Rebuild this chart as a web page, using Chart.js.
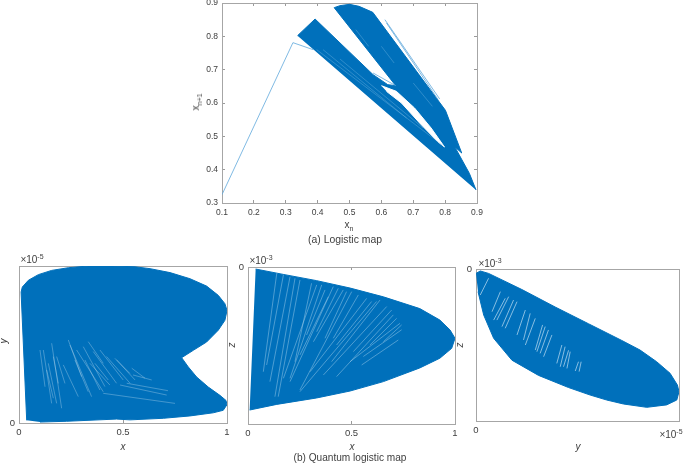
<!DOCTYPE html>
<html>
<head>
<meta charset="utf-8">
<title>Logistic map</title>
<script src="https://cdn.jsdelivr.net/npm/chart.js@4"></script>
<style>
  html, body { margin: 0; padding: 0; background: #fff; }
  #page { position: relative; width: 685px; height: 466px; overflow: hidden;
          font-family: "Liberation Sans", Arial, sans-serif; color: #404040;
          filter: blur(0.35px); }
  #page canvas { position: absolute; }
  .lbl { position: absolute; font-size: 10px; line-height: 12px; white-space: nowrap;
         transform: translate(-50%, -50%); }
  .lbl sub, .lbl sup { font-size: 7px; line-height: 0; }
  .rot { transform: translate(-50%, -50%) rotate(-90deg); }
  .it { font-style: italic; }
</style>
</head>
<body>
<div id="page">
  <canvas id="logistic"></canvas>
  <canvas id="quantXY"></canvas>
  <canvas id="quantXZ"></canvas>
  <canvas id="quantYZ"></canvas>
  <div class="lbl" style="left:349px;top:225px">x<sub>n</sub></div>
  <div class="lbl rot" style="left:196px;top:102px">x<sub>n+1</sub></div>
  <div class="lbl" style="left:345px;top:240px;font-size:10.4px">(a) Logistic map</div>
  <div class="lbl" style="left:350px;top:458px;font-size:10.1px">(b) Quantum logistic map</div>
  <div class="lbl" style="left:32px;top:260px">&times;10<sup>-5</sup></div>
  <div class="lbl" style="left:261px;top:261px">&times;10<sup>-3</sup></div>
  <div class="lbl" style="left:490px;top:264px">&times;10<sup>-3</sup></div>
  <div class="lbl" style="left:671px;top:435px">&times;10<sup>-5</sup></div>
  <div class="lbl it" style="left:123px;top:447px">x</div>
  <div class="lbl it" style="left:352px;top:447px">x</div>
  <div class="lbl it" style="left:578px;top:447px">y</div>
  <div class="lbl it rot" style="left:4px;top:341px">y</div>
  <div class="lbl it rot" style="left:232px;top:345px">z</div>
  <div class="lbl it rot" style="left:460px;top:345px">z</div>
</div>
<script>
const blue = "#0070BB";

// (a) logistic map
const logisticTicksX = [0.1, 0.2, 0.3, 0.4, 0.5, 0.6, 0.7, 0.8, 0.9];
const logisticTicksY = [0.3, 0.4, 0.5, 0.6, 0.7, 0.8, 0.9];
const bandX = [0.337, 0.392, 0.574, 0.62, 0.645, 0.452, 0.47, 0.5, 0.53, 0.573, 0.801, 0.852, 0.83, 0.876, 0.897];
const bandY = [0.802, 0.852, 0.685, 0.655, 0.652, 0.886, 0.892, 0.896, 0.89, 0.872, 0.578, 0.45, 0.469, 0.389, 0.339];
const channelX = [0.6, 0.647, 0.704, 0.756, 0.798, 0.777, 0.72, 0.663, 0.616];
const channelY = [0.652, 0.635, 0.585, 0.525, 0.468, 0.484, 0.54, 0.6, 0.635];
const traceX = [0.1, 0.3225, 0.386, null, 0.574, 0.645, null, 0.611, 0.783, null, 0.616, 0.778];
const traceY = [0.325, 0.781, 0.76, null, 0.69, 0.652, null, 0.85, 0.612, null, 0.84, 0.61];
const bandGapsX = [0.397, 0.799, null, 0.417, 0.679, null, 0.47, 0.731, null, 0.52, 0.56, null, 0.6, 0.64, null, 0.7, 0.76];
const bandGapsY = [0.76, 0.468, null, 0.76, 0.555, null, 0.732, 0.525, null, 0.82, 0.77, null, 0.77, 0.72, null, 0.66, 0.59];

// (b) quantum logistic map, x against y
const quantTicksX = [0, 0.5, 1];
const quantTicksY = [0];
const xyX = [0.037, 0.01, 0.016, 0.045, 0.093, 0.157, 0.237, 0.333, 0.445, 0.558, 0.63, 0.726, 0.822, 0.902, 0.958, 0.99, 1, 0.99, 0.958, 0.902, 0.838, 0.782, 0.814, 0.854, 0.91, 0.966, 0.995, 1, 0.982, 0.934, 0.822, 0.694, 0.534, 0.469, 0.229, 0.101];
const xyY = [0.017, 0.834, 0.866, 0.909, 0.945, 0.972, 0.989, 1, 1, 0.995, 0.983, 0.958, 0.919, 0.872, 0.813, 0.76, 0.717, 0.654, 0.591, 0.516, 0.463, 0.416, 0.357, 0.293, 0.229, 0.176, 0.144, 0.117, 0.081, 0.065, 0.045, 0.03, 0.02, 0.025, 0.011, 0.006];
const xyGapsX = [0.75, 0.405, null, 0.71, 0.486, null, 0.716, 0.518, null, 0.638, 0.548, null, 0.157, 0.205, null, 0.117, 0.157, null, 0.245, 0.349, null, 0.277, 0.405, null, 0.309, 0.413, null, 0.341, 0.437, null, 0.389, 0.501, null, 0.421, 0.534, null, 0.213, 0.285, null, 0.165, 0.189, null, 0.133, 0.165, null, 0.469, 0.558, null, 0.542, 0.606, null, 0.357, 0.469, null, 0.101, 0.125, null, 0.141, 0.181, null, 0.181, 0.221, null, 0.237, 0.301, null, 0.269, 0.333, null, 0.317, 0.389, null, 0.365, 0.429, null, 0.333, 0.405, null, 0.461, 0.533];
const xyGapsY = [0.125, 0.189, null, 0.178, 0.242, null, 0.206, 0.253, null, 0.274, 0.306, null, 0.508, 0.094, null, 0.465, 0.125, null, 0.497, 0.168, null, 0.465, 0.199, null, 0.486, 0.232, null, 0.38, 0.242, null, 0.465, 0.274, null, 0.423, 0.253, null, 0.37, 0.168, null, 0.423, 0.252, null, 0.338, 0.158, null, 0.402, 0.274, null, 0.349, 0.285, null, 0.455, 0.253, null, 0.465, 0.231, null, 0.38, 0.125, null, 0.423, 0.252, null, 0.529, 0.295, null, 0.401, 0.199, null, 0.401, 0.21, null, 0.38, 0.274, null, 0.518, 0.38, null, 0.412, 0.316];

// (b) x against z
const xzX = [0.037, 0.17, 0.332, 0.493, 0.654, 0.83, 0.927, 0.976, 1, 0.984, 0.927, 0.83, 0.654, 0.493, 0.332, 0.139, 0.008];
const xzZ = [-0.013, -0.047, -0.087, -0.134, -0.19, -0.265, -0.338, -0.401, -0.454, -0.518, -0.581, -0.643, -0.73, -0.79, -0.834, -0.875, -0.911];
const xzGapsX = [0.139, 0.074, null, 0.203, 0.106, null, 0.251, 0.146, null, 0.412, 0.203, null, 0.388, 0.251, null, 0.501, 0.251, null, 0.573, 0.3, null, 0.621, 0.251, null, 0.67, 0.364, null, 0.702, 0.428, null, 0.734, 0.493, null, 0.726, 0.549, null, 0.742, 0.557, null, 0.332, 0.171, null, 0.46, 0.316, null, 0.638, 0.404, null, 0.171, 0.09, null, 0.227, 0.13, null, 0.307, 0.227, null, 0.356, 0.203, null, 0.372, 0.283, null, 0.436, 0.332, null, 0.476, 0.372, null, 0.533, 0.412, null, 0.597, 0.428, null, 0.694, 0.509, null, 0.718, 0.589, null, 0.742, 0.654];
const xzGapsZ = [-0.04, -0.667, null, -0.062, -0.73, null, -0.083, -0.826, null, -0.125, -0.73, null, -0.189, -0.56, null, -0.157, -0.783, null, -0.2, -0.667, null, -0.22, -0.794, null, -0.252, -0.688, null, -0.305, -0.698, null, -0.359, -0.603, null, -0.465, -0.624, null, -0.4, -0.57, null, -0.114, -0.709, null, -0.146, -0.476, null, -0.21, -0.603, null, -0.051, -0.624, null, -0.072, -0.826, null, -0.104, -0.603, null, -0.114, -0.709, null, -0.146, -0.433, null, -0.136, -0.412, null, -0.157, -0.454, null, -0.178, -0.454, null, -0.22, -0.497, null, -0.274, -0.539, null, -0.327, -0.497, null, -0.369, -0.476];

// (b) y against z
const yzY = [0, 0.021, 0.062, 0.226, 0.39, 0.554, 0.718, 0.808, 0.89, 0.956, 0.992, 1, 0.989, 0.939, 0.841, 0.726, 0.644, 0.562, 0.456, 0.308, 0.177, 0.087, 0.038, 0.01];
const yzZ = [-0.029, -0.013, -0.029, -0.135, -0.25, -0.36, -0.47, -0.533, -0.61, -0.686, -0.763, -0.807, -0.862, -0.894, -0.91, -0.888, -0.862, -0.829, -0.78, -0.7, -0.6, -0.456, -0.303, -0.149];
const yzGapsY = [0.062, 0.021, null, 0.161, 0.103, null, 0.202, 0.144, null, 0.292, 0.243, null, 0.341, 0.3, null, 0.374, 0.333, null, 0.439, 0.415, null, 0.505, 0.489, null, 0.243, 0.202, null, 0.12, 0.079, null, 0.464, 0.448, null, 0.144, 0.087, null, 0.185, 0.128, null, 0.267, 0.234, null, 0.328, 0.292, null, 0.357, 0.316, null, 0.423, 0.398, null, 0.456, 0.431, null, 0.518, 0.508];
const yzGapsZ = [-0.061, -0.171, null, -0.182, -0.336, null, -0.215, -0.39, null, -0.325, -0.5, null, -0.379, -0.544, null, -0.434, -0.577, null, -0.511, -0.643, null, -0.61, -0.671, null, -0.27, -0.434, null, -0.149, -0.281, null, -0.544, -0.654, null, -0.193, -0.336, null, -0.204, -0.379, null, -0.292, -0.467, null, -0.368, -0.533, null, -0.401, -0.555, null, -0.5, -0.621, null, -0.535, -0.643, null, -0.61, -0.675];

const points = (xs, ys) => xs.map((x, i) => ({ x, y: ys[i] }));

const shape = (xs, ys, color) => ({
  data: points(xs, ys), showLine: true, fill: "shape", backgroundColor: color,
  borderColor: color, borderWidth: 1, pointRadius: 0, tension: 0,
});

const line = (xs, ys, color, width) => ({
  data: points(xs, ys), showLine: true, fill: false, borderColor: color,
  borderWidth: width, pointRadius: 0, tension: 0, spanGaps: false,
});

const pad = 45;

// matlab style axis box, ticks pointing inwards
const makeAxis = (min, max, ticks, size = 9.5, padding = 7) => ({
  type: "linear", min, max,
  afterBuildTicks: (axis) => { axis.ticks = ticks.map((value) => ({ value })); },
  afterFit: (axis) => { if (axis.isHorizontal()) axis.height = pad; else axis.width = pad; },
  grid: { drawOnChartArea: false, color: "#9a9a9a", tickLength: -3 },
  border: { color: "#a6a6a6", width: 1 },
  ticks: { autoSkip: false, maxRotation: 0, padding, color: "#404040",
           font: { family: "Liberation Sans", size }, callback: (v) => String(v) },
});

const drawPanel = (id, box, datasets, xAxis, yAxis) => {
  const canvas = document.getElementById(id);
  canvas.width = box.right - box.left + pad * 2;
  canvas.height = box.bottom - box.top + pad * 2;
  canvas.style.left = box.left - pad + "px";
  canvas.style.top = box.top - pad + "px";
  // later datasets on top
  datasets.forEach((d, i) => { d.order = -i; });
  return new Chart(canvas, {
    type: "scatter",
    data: { datasets },
    options: {
      responsive: false, animation: false,
      layout: { padding: 0 },
      plugins: { legend: { display: false }, tooltip: { enabled: false }, title: { display: false } },
      scales: {
        x: xAxis, y: yAxis,
        xTop: { ...xAxis, axis: "x", position: "top", ticks: { display: false } },
        yRight: { ...yAxis, axis: "y", position: "right", ticks: { display: false } },
      },
    },
  });
};

drawPanel("logistic", { left: 222, right: 477, top: 3, bottom: 203 }, [
  shape(bandX, bandY, blue),
  shape(channelX, channelY, "#ffffff"),
  line(bandGapsX, bandGapsY, "rgba(130,190,230,0.6)", 0.6),
  line(traceX, traceY, "#5fa8dc", 0.8),
], makeAxis(0.1, 0.9, logisticTicksX, 8.5, 8), makeAxis(0.3, 0.9, logisticTicksY, 8.5, 7));

drawPanel("quantXY", { left: 19, right: 227, top: 266, bottom: 423 }, [
  shape(xyX, xyY, blue),
  line(xyGapsX, xyGapsY, "rgba(190,222,242,0.6)", 0.6),
], makeAxis(0, 1, quantTicksX), makeAxis(0, 1, quantTicksY));

drawPanel("quantXZ", { left: 248, right: 455, top: 267, bottom: 424 }, [
  shape(xzX, xzZ, blue),
  line(xzGapsX, xzGapsZ, "rgba(170,210,238,0.65)", 0.7),
], makeAxis(0, 1, quantTicksX), makeAxis(-1, 0, quantTicksY));

drawPanel("quantYZ", { left: 476, right: 679, top: 269, bottom: 421 }, [
  shape(yzY, yzZ, blue),
  line(yzGapsY, yzGapsZ, "rgba(200,226,244,0.75)", 0.9),
], makeAxis(0, 1, quantTicksY), makeAxis(-1, 0, quantTicksY));
</script>
</body>
</html>
